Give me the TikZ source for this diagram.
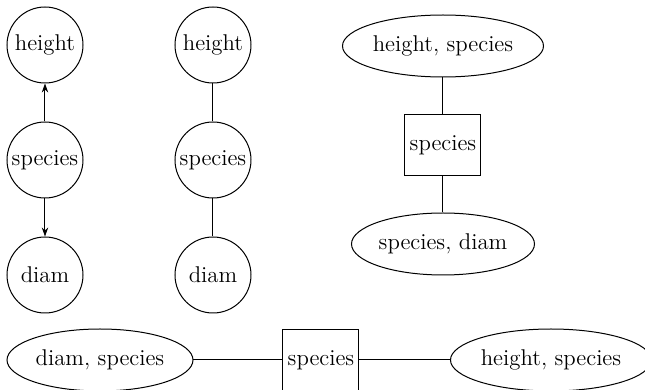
\documentclass[tikz,border=0pt]{standalone}
\usetikzlibrary{shapes.geometric,arrows.meta}
\begin{document}
\begin{tikzpicture}[x=0.5pt,y=-0.5pt,
  every node/.style={font=\fontsize{11.4}{13}\selectfont, draw, inner sep=0pt, line width=0.5pt},
  var/.style={circle, minimum size=38pt},
  clique/.style={ellipse, minimum width=#1, minimum height=31pt},
  sepbox/.style={rectangle, minimum width=38pt, minimum height=30.5pt},
  conn/.style={line width=0.5pt},
  arr/.style={conn, -{Stealth[length=4.5pt,width=3.2pt]}}]
\useasboundingbox (0,0) rectangle (645,390);
% column 1
\node[var] (h1) at (45,45) {height};
\node[var] (s1) at (45,160) {species};
\node[var] (d1) at (45,275) {diam};
\draw[arr] (s1) -- (h1);
\draw[arr] (s1) -- (d1);
% column 2
\node[var] (h2) at (213,45) {height};
\node[var] (s2) at (213,160) {species};
\node[var] (d2) at (213,275) {diam};
\draw[conn] (s2) -- (h2);
\draw[conn] (s2) -- (d2);
% column 3
\node[clique=100.5pt] (hs) at (443,46) {height, species};
\node[sepbox] (sp) at (443,145) {species};
\node[clique=91.5pt] (sd) at (443,244) {species, diam};
\draw[conn] (hs) -- (sp);
\draw[conn] (sp) -- (sd);
% bottom row
\node[clique=93pt] (ds) at (100,360) {diam, species};
\node[sepbox] (sp2) at (321,360) {species};
\node[clique=100.5pt] (hs2) at (551,360) {height, species};
\draw[conn] (ds) -- (sp2);
\draw[conn] (sp2) -- (hs2);
\end{tikzpicture}
\end{document}
